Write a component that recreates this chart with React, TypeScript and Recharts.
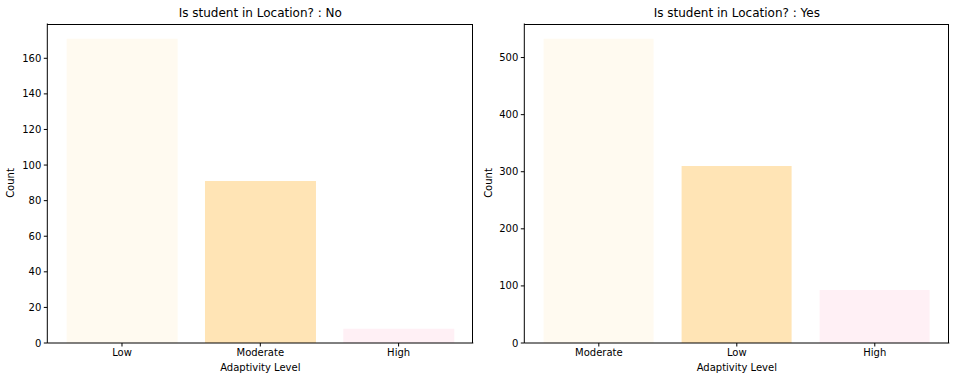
import React from "react";
import { BarChart, Bar, XAxis, YAxis, Cell } from "recharts";

const leftCategories = ["Low", "Moderate", "High"];
const leftCounts = [171, 91, 8];
const leftTicks = [0, 20, 40, 60, 80, 100, 120, 140, 160];

const rightCategories = ["Moderate", "Low", "High"];
const rightCounts = [533, 310, 93];
const rightTicks = [0, 100, 200, 300, 400, 500];

const barColors = ["#FFFAF0", "#FFE4B5", "#FFF0F5"];

const FONT = "'DejaVu Sans', sans-serif";

type PanelProps = {
  title: string;
  categories: string[];
  counts: number[];
  ticks: number[];
  left: number;
  yWidth: number;
  rightMargin: number;
};

function Panel({ title, categories, counts, ticks, left, yWidth, rightMargin }: PanelProps) {
  const W = 478;
  const H = 381;
  const TOP = 23.5;
  const BOTTOM = 343;
  const data = categories.map((c, i) => ({ level: c, count: counts[i] }));
  const max = Math.max(...counts);
  const plotW = W - yWidth - rightMargin;
  const band = plotW / 3.08;
  const pad = band * 0.04;
  const plotLeft = left + yWidth;
  const centerX = plotLeft + plotW / 2;
  const tickStyle = { fill: "#000", fontSize: 10, fontFamily: FONT };
  return (
    <>
      <div style={{ position: "absolute", left, top: 0, width: W, height: H }}>
        <BarChart
          width={W}
          height={H}
          data={data}
          margin={{ top: TOP, right: rightMargin, bottom: 0, left: 0 }}
          barCategoryGap="10%"
        >
          <XAxis
            dataKey="level"
            height={H - BOTTOM}
            padding={{ left: pad, right: pad }}
            tickSize={3.5}
            tickMargin={2.5}
            tick={tickStyle}
            axisLine={{ stroke: "#000", strokeWidth: 1 }}
            tickLine={{ stroke: "#000" }}
          />
          <YAxis
            width={yWidth}
            domain={[0, max * 1.05]}
            ticks={ticks}
            allowDataOverflow
            tickSize={3.5}
            tickMargin={2.5}
            tick={tickStyle}
            axisLine={{ stroke: "#000", strokeWidth: 1 }}
            tickLine={{ stroke: "#000" }}
          />
          <Bar dataKey="count" isAnimationActive={false}>
            {data.map((d, i) => (
              <Cell key={d.level} fill={barColors[i]} />
            ))}
          </Bar>
        </BarChart>
      </div>
      <div
        style={{
          position: "absolute",
          left: plotLeft,
          top: TOP,
          width: plotW,
          height: BOTTOM - TOP,
          boxSizing: "border-box",
          borderTop: "1px solid #000",
          borderRight: "1px solid #000",
          pointerEvents: "none",
        }}
      />
      <div
        style={{
          position: "absolute",
          left: centerX - 200,
          width: 400,
          top: 5.5,
          textAlign: "center",
          fontFamily: FONT,
          fontSize: 12,
          lineHeight: "14px",
          color: "#000",
        }}
      >
        {title}
      </div>
      <div
        style={{
          position: "absolute",
          left: centerX - 150,
          width: 300,
          top: 362,
          textAlign: "center",
          fontFamily: FONT,
          fontSize: 10,
          lineHeight: "12px",
          color: "#000",
        }}
      >
        Adaptivity Level
      </div>
      <div
        style={{
          position: "absolute",
          left: left + 11 - 50,
          top: 183 - 6,
          width: 100,
          textAlign: "center",
          transform: "rotate(-90deg)",
          fontFamily: FONT,
          fontSize: 10,
          lineHeight: "12px",
          color: "#000",
        }}
      >
        Count
      </div>
    </>
  );
}

export default function App() {
  return (
    <div style={{ position: "absolute", left: 0, top: 0, width: 956, height: 381, background: "#fff" }}>
      <Panel
        title="Is student in Location? : No"
        categories={leftCategories}
        counts={leftCounts}
        ticks={leftTicks}
        left={0}
        yWidth={47.3}
        rightMargin={4.7}
      />
      <Panel
        title="Is student in Location? : Yes"
        categories={rightCategories}
        counts={rightCounts}
        ticks={rightTicks}
        left={478}
        yWidth={46.3}
        rightMargin={6.7}
      />
    </div>
  );
}
